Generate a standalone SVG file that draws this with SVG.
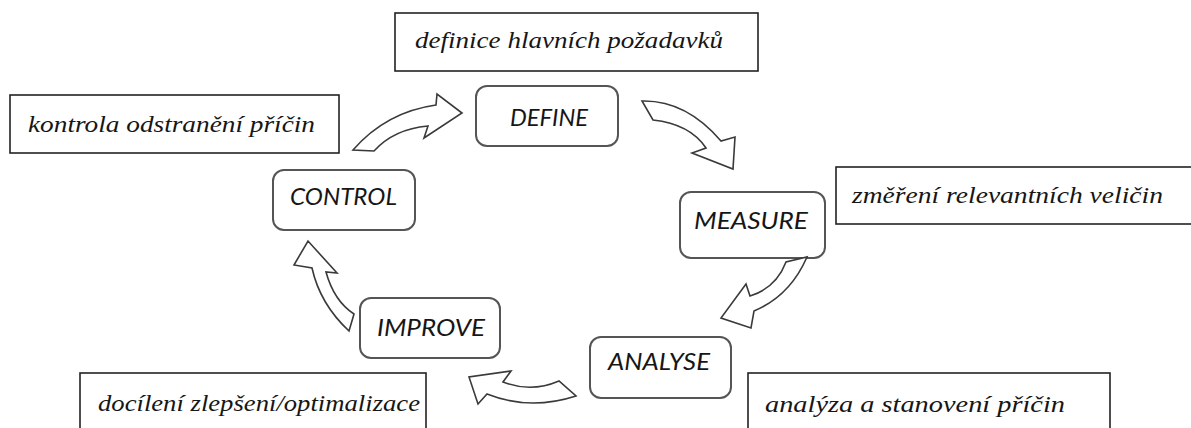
<svg xmlns="http://www.w3.org/2000/svg" width="1191" height="428" viewBox="0 0 1191 428">
  <style>
    .step rect { fill: #ffffff; stroke: #555555; stroke-width: 2; }
    .step text { font-family: Lato, 'Open Sans', sans-serif; font-style: italic; font-size: 24px; fill: #161616; }
    .note rect { fill: #ffffff; stroke: #222222; stroke-width: 1.6; }
    .note text { font-family: 'Liberation Serif', 'DejaVu Serif', serif; font-style: italic; font-size: 23px; fill: #161616; }
    .flow path { fill: #ffffff; stroke: #3a3a3a; stroke-width: 1.6; stroke-linejoin: miter; }
  </style>
  <rect width="1191" height="428" fill="#ffffff"/>

  <!-- description boxes -->
  <g id="note-define" class="note">
    <rect x="395" y="13" width="363" height="58"/>
    <text x="415" y="48" textLength="308" lengthAdjust="spacingAndGlyphs">definice hlavních požadavků</text>
  </g>
  <g id="note-control" class="note">
    <rect x="10" y="95" width="329" height="58"/>
    <text x="28" y="132" textLength="287" lengthAdjust="spacingAndGlyphs">kontrola odstranění příčin</text>
  </g>
  <g id="note-measure" class="note">
    <rect x="836" y="167" width="370" height="57"/>
    <text x="852" y="203" textLength="311" lengthAdjust="spacingAndGlyphs">změření relevantních veličin</text>
  </g>
  <g id="note-analyse" class="note">
    <rect x="748" y="373" width="362" height="70"/>
    <text x="765" y="412" textLength="300" lengthAdjust="spacingAndGlyphs">analýza a stanovení příčin</text>
  </g>
  <g id="note-improve" class="note">
    <rect x="80" y="373" width="346" height="70"/>
    <text x="98" y="411" textLength="322" lengthAdjust="spacingAndGlyphs">docílení zlepšení/optimalizace</text>
  </g>

  <!-- DMAIC phases -->
  <g id="define" class="step">
    <rect x="476" y="86" width="142" height="60" rx="11"/>
    <text x="510" y="126" textLength="78" lengthAdjust="spacingAndGlyphs">DEFINE</text>
  </g>
  <g id="measure" class="step">
    <rect x="680" y="192" width="145" height="66" rx="11"/>
    <text x="694" y="229" textLength="114" lengthAdjust="spacingAndGlyphs">MEASURE</text>
  </g>
  <g id="analyse" class="step">
    <rect x="590" y="337" width="141" height="61" rx="11"/>
    <text x="608" y="370" textLength="102" lengthAdjust="spacingAndGlyphs">ANALYSE</text>
  </g>
  <g id="improve" class="step">
    <rect x="360" y="298" width="140" height="60" rx="11"/>
    <text x="377" y="336" textLength="108" lengthAdjust="spacingAndGlyphs">IMPROVE</text>
  </g>
  <g id="control" class="step">
    <rect x="273" y="170" width="142" height="60" rx="11"/>
    <text x="290" y="205" textLength="107" lengthAdjust="spacingAndGlyphs">CONTROL</text>
  </g>

  <!-- curved block arrows of the cycle -->
  <g id="connectors" class="flow">
    <path id="control-define" d="M353,150 Q386,112 436,105 L437,94 L462,113 L424,138 L428,126 Q394,129 374,151 Z"/>
    <path id="define-measure" d="M642,101 Q686,100 721,141 L735,137 L733,169 L692,153 L706,148 Q690,124 653,120 Z"/>
    <path id="measure-analyse" d="M807,257 Q790,296 754,311 L751,328 L721,318 L746,284 L750,296 Q776,288 786,262 Z"/>
    <path id="analyse-improve" d="M559,381 Q531,393 503,382 L511,371 L469,377 L478,404 L487,394 Q530,411 576,396 Z"/>
    <path id="improve-control" d="M349,331 Q320,304 312,268 L294,265 L308,241 L337,273 L326,272 Q334,301 354,314 Z"/>
  </g>
</svg>
